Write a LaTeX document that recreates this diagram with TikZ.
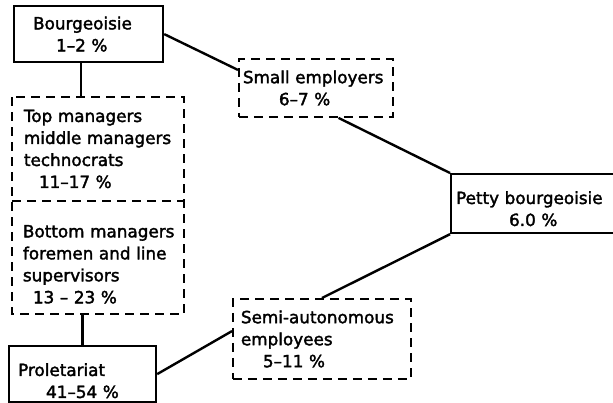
\documentclass[tikz,border=0pt]{standalone}
\usepackage{fontspec}
\setmainfont{DejaVu Sans}
\newfontfamily\boxfont{DejaVu Sans}[Ligatures=TeX, FakeBold=2]
\usetikzlibrary{positioning}
\hyphenpenalty=10000
\exhyphenpenalty=10000

\tikzset{
  solidbox/.style={draw, line width=2.2pt, anchor=north west, align=left, font=\boxfont\fontsize{16.8}{22}\selectfont},
  dashbox/.style={draw, line width=1.9pt, dash pattern=on 9pt off 6pt, anchor=north west, align=left, font=\boxfont\fontsize{16.8}{22}\selectfont},
  dashline/.style={line width=1.9pt, dash pattern=on 9pt off 6pt},
  textdrop/.style={execute at begin node={\rule{0pt}{#1}}},
  conn/.style={line width=2.4pt}
}

\begin{document}
\begin{tikzpicture}[x=1pt,y=-1pt]
\useasboundingbox (0,0) rectangle (613,402);
\node[solidbox, minimum width=149pt, minimum height=56pt, text width=111pt, inner xsep=0pt] (bourg) at (13,5) {Bourgeoisie\\\hspace*{23pt}1--2 \%};
\node[dashbox, draw=none, minimum width=170pt, minimum height=102pt, text width=148pt, inner xsep=0pt] (topmgr) at (12,97) {\mbox{Top managers}\\\mbox{middle managers}\\technocrats\\\hspace*{15pt}11--17 \%};
\node[dashbox, draw=none, minimum width=170pt, minimum height=113pt, text width=150pt, inner xsep=0pt, textdrop=28pt] (botmgr) at (12,199) {\mbox{Bottom managers}\\\mbox{foremen and line}\\supervisors\\\hspace*{10pt}13 -- 23 \%};
\node[solidbox, minimum width=147pt, minimum height=56pt, text width=129pt, inner xsep=0pt, textdrop=26pt] (prol) at (8,345) {Proletariat\\\hspace*{28pt}41--54 \%};
\node[dashbox, minimum width=154pt, minimum height=58pt, text width=146pt, inner xsep=0pt] (small) at (238,58) {\mbox{Small employers}\\\hspace*{36pt}6--7 \%};
\node[solidbox, minimum width=166pt, minimum height=59pt, text width=156pt, inner xsep=0pt, textdrop=23pt] (petty) at (450,173) {\mbox{Petty bourgeoisie}\\\hspace*{53pt}6.0 \%};
\node[dashbox, minimum width=178pt, minimum height=80pt, text width=162pt, inner xsep=0pt] (semi) at (232,298) {\mbox{Semi-autonomous}\\employees\\\hspace*{22pt}5--11 \%};

\draw[dashline] (topmgr.north west) rectangle (botmgr.south east);
\draw[dashline] (topmgr.south west) -- (topmgr.south east);

\draw[conn] (bourg.east) -- (small.167);
\draw[conn] ([xshift=-7.5pt]bourg.south) -- ([xshift=-7.5pt]bourg.south |- topmgr.north);
\draw[conn] (prol.north) -- (prol.north |- botmgr.south);
\draw[conn] (prol.east) -- (semi.175);
\draw[conn] (semi.north) -- (petty.south west);
\draw[conn] (small.-53) -- (petty.north west);
\end{tikzpicture}
\end{document}
